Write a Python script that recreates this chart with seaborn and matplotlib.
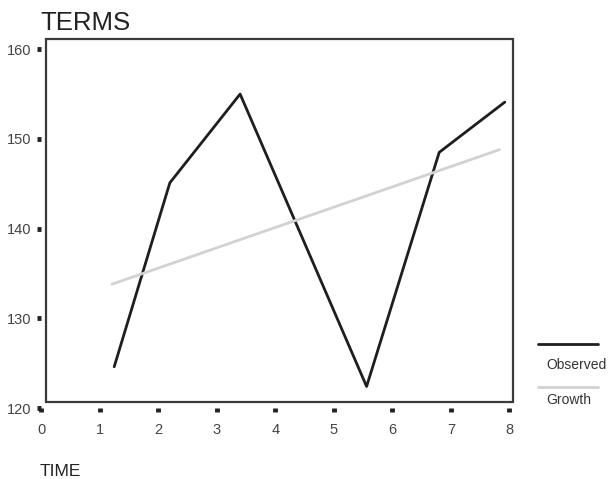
import matplotlib
matplotlib.use("Agg")
import matplotlib.pyplot as plt
from matplotlib.patches import Rectangle
from matplotlib.lines import Line2D
import seaborn as sns
import pandas as pd

# Data
obs_time = [1.25, 2.20, 3.40, 5.56, 6.80, 7.92]
obs_value = [124.6, 145.1, 155.0, 122.4, 148.5, 154.1]
growth_time = [1.21, 7.83]
growth_value = [133.8, 148.8]
series_names = ["Observed", "Growth"]
series_colors = ["#1e1e1e", "#d2d2d2"]
x_ticks = [0, 1, 2, 3, 4, 5, 6, 7, 8]
y_ticks = [120, 130, 140, 150, 160]

df = pd.DataFrame({
    "TIME": obs_time + growth_time,
    "value": obs_value + growth_value,
    "series": [series_names[0]] * len(obs_time) + [series_names[1]] * len(growth_time),
})

sns.set_style("white")
plt.rcParams["font.family"] = ["Liberation Sans", "DejaVu Sans"]

W, H = 609, 479
fig = plt.figure(figsize=(W / 100, H / 100), dpi=100)
ax = fig.add_axes([41 / W, (H - 408) / H, 472 / W, 369 / H])

sns.lineplot(data=df, x="TIME", y="value", hue="series", hue_order=series_names,
             palette=series_colors, linewidth=2.0, legend=False, ax=ax, sort=False)

ax.set_xlim(0, 472 / 58.56)
ax.set_ylim(120, 120 + 369 / 8.97)
ax.set_xticks(x_ticks)
ax.set_xticklabels([str(t) for t in x_ticks])
ax.set_yticks(y_ticks)
ax.set_yticklabels([str(t) for t in y_ticks])
for s in ax.spines.values():
    s.set_visible(False)
ax.tick_params(axis="x", bottom=True, direction="out", length=3, width=3.5, color="#222222",
               pad=8, labelsize=10.5, labelcolor="#444444")
ax.tick_params(axis="y", left=True, direction="out", length=3, width=3.5, color="#222222",
               pad=4, labelsize=10.5, labelcolor="#444444")
ax.set_xlabel("")
ax.set_ylabel("")
ax.grid(False)

# frame
x0 = 5 / 472
y0 = 6 / 369
ax.add_patch(Rectangle((x0, y0), 1 - x0, 1 - y0, transform=ax.transAxes, fill=False,
                       edgecolor="#3a3a3a", linewidth=1.6, clip_on=False, zorder=5))

fig.text(40 / W, 1 - 23 / H, "TERMS", fontsize=18.5, color="#222222", va="center", ha="left")
fig.text(40 / W, 1 - 471 / H, "TIME", fontsize=12.5, color="#222222", va="center", ha="left")

# legend: line sample above label
leg_y = [344, 387]
lab_y = [365, 400]
for name, col, ly, ty in zip(series_names, series_colors, leg_y, lab_y):
    fig.add_artist(Line2D([538 / W, 598 / W], [1 - ly / H, 1 - ly / H], color=col,
                          linewidth=2.0, transform=fig.transFigure))
    fig.text(546 / W, 1 - ty / H, name, fontsize=10, color="#333333", va="center", ha="left")

fig.savefig("out.png", dpi=100)
